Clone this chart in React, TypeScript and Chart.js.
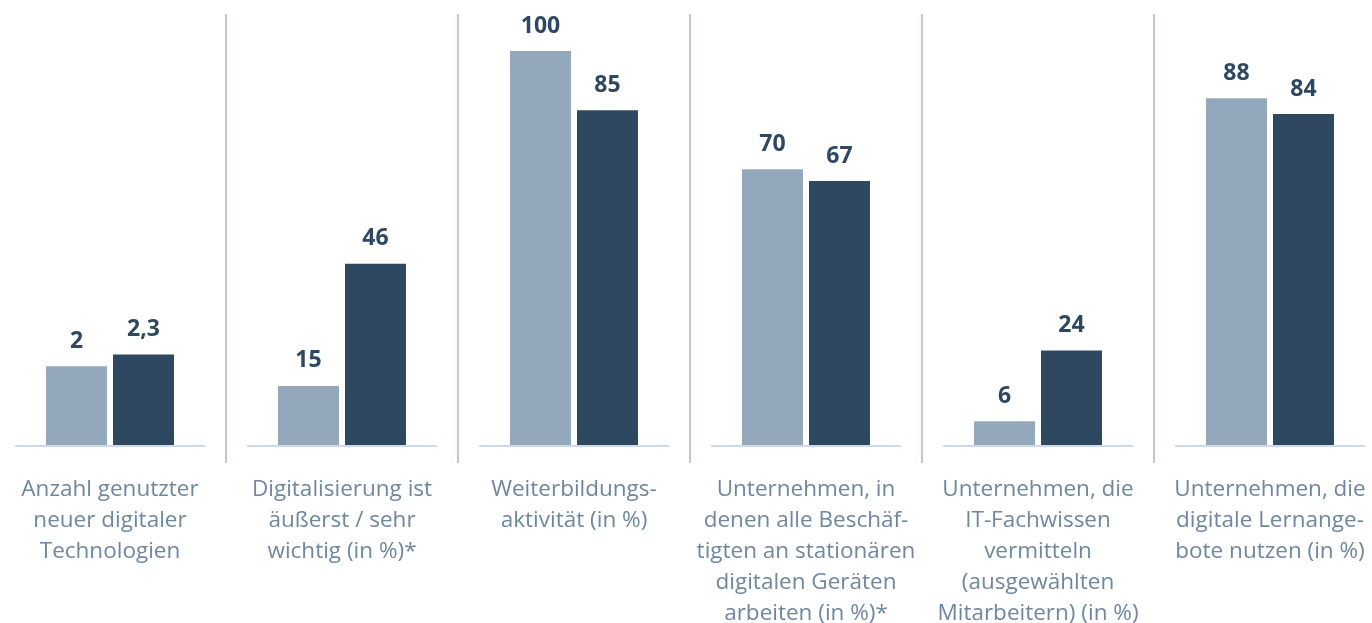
import React, { useEffect, useRef } from "react";
import { Chart, registerables } from "chart.js";

Chart.register(...registerables);

const categories: string[][] = [
  ["Anzahl genutzter", "neuer digitaler", "Technologien"],
  ["Digitalisierung ist", "äußerst / sehr", "wichtig (in %)*"],
  ["Weiterbildungs-", "aktivität (in %)"],
  ["Unternehmen, in", "denen alle Beschäf-", "tigten an stationären", "digitalen Geräten", "arbeiten (in %)*"],
  ["Unternehmen, die", "IT-Fachwissen", "vermitteln", "(ausgewählten", "Mitarbeitern) (in %)"],
  ["Unternehmen, die", "digitale Lernange-", "bote nutzen (in %)"],
];
const seriesLight: number[] = [2, 15, 100, 70, 6, 88];
const seriesDark: number[] = [2.3, 46, 85, 67, 24, 84];
// the first group (a count, not a percentage) is drawn on its own scale
const groupScale: number[] = [10, 1, 1, 1, 1, 1];

const COLOR_LIGHT = "#94a8bb";
const COLOR_DARK = "#2e4862";
const COLOR_LABEL = "#6f879f";
const COLOR_SEP = "#bccad9";
const COLOR_BASE = "#cdd8e8";
const FONT = "'Open Sans', 'Noto Sans', sans-serif";

const fmt = (v: number) => String(v).replace(".", ",");

const overlay = {
  id: "overlay",
  beforeDatasetsDraw(chart: any) {
    const { ctx } = chart;
    const x = chart.scales.x;
    const y = chart.scales.y;
    const y0 = y.getPixelForValue(0);
    ctx.save();
    ctx.strokeStyle = COLOR_BASE;
    ctx.lineWidth = 2;
    categories.forEach((_, i) => {
      const cx = x.getPixelForValue(i);
      ctx.beginPath();
      ctx.moveTo(cx - 95, y0 + 1);
      ctx.lineTo(cx + 95, y0 + 1);
      ctx.stroke();
    });
    ctx.restore();
  },
  afterDatasetsDraw(chart: any) {
    const { ctx } = chart;
    const raws = [seriesLight, seriesDark];
    ctx.save();
    ctx.font = `bold 23px ${FONT}`;
    ctx.fillStyle = COLOR_DARK;
    ctx.textAlign = "center";
    ctx.textBaseline = "middle";
    chart.data.datasets.forEach((_: any, di: number) => {
      const meta = chart.getDatasetMeta(di);
      meta.data.forEach((bar: any, i: number) => {
        ctx.fillText(fmt(raws[di][i]), bar.x, bar.y - 25);
      });
    });
    ctx.restore();
  },
};

export default function App() {
  const ref = useRef<HTMLCanvasElement | null>(null);
  useEffect(() => {
    if (!ref.current) return;
    const chart = new Chart(ref.current, {
      type: "bar",
      data: {
        labels: categories,
        datasets: [
          {
            data: seriesLight.map((v, i) => v * groupScale[i]),
            backgroundColor: COLOR_LIGHT,
            categoryPercentage: 134 / 232,
            barPercentage: 61 / 67,
          },
          {
            data: seriesDark.map((v, i) => v * groupScale[i]),
            backgroundColor: COLOR_DARK,
            categoryPercentage: 134 / 232,
            barPercentage: 61 / 67,
          },
        ],
      },
      options: {
        animation: false,
        responsive: true,
        maintainAspectRatio: false,
        layout: { padding: { top: 14, left: 0, right: 0, bottom: 0 } },
        plugins: { legend: { display: false }, tooltip: { enabled: false } },
        scales: {
          x: {
            offset: true,
            border: { display: false },
            grid: {
              offset: true,
              color: COLOR_SEP,
              lineWidth: 2,
              drawTicks: true,
              tickLength: 18,
            },
            ticks: {
              color: COLOR_LABEL,
              font: { family: FONT, size: 22.5, lineHeight: 31 / 22.5 },
              padding: 11,
              maxRotation: 0,
              autoSkip: false,
            },
          },
          y: { display: false, min: 0, max: 109.4 },
        },
      },
      plugins: [overlay],
    });
    return () => chart.destroy();
  }, []);
  return (
    <div style={{ position: "fixed", left: 0, top: 0, width: 1372, height: 623, overflow: "hidden", background: "#fff" }}>
      <div style={{ position: "absolute", left: -6, top: 0, width: 1392, height: 640 }}>
        <canvas ref={ref} />
      </div>
    </div>
  );
}
